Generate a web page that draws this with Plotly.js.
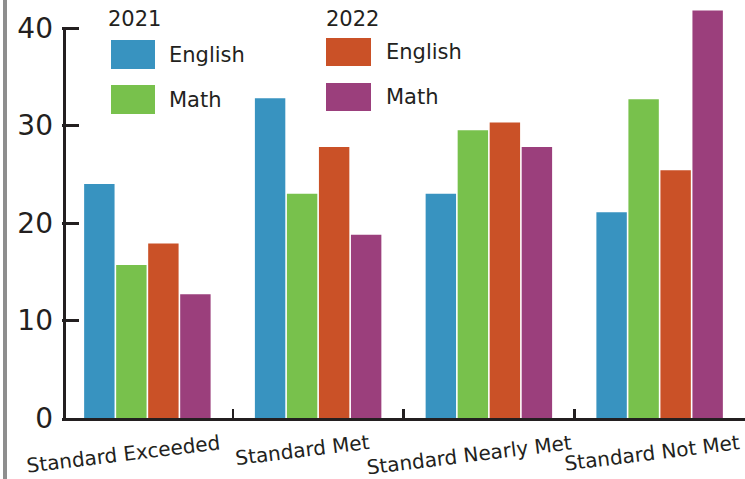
<!DOCTYPE html>
<html>
<head>
<meta charset="utf-8">
<script src="https://cdn.plot.ly/plotly-3.0.1.min.js"></script>
<style>
  html, body { margin: 0; padding: 0; background: #ffffff; }
  #chart { width: 745px; height: 479px; }
</style>
</head>
<body>
<div id="chart"></div>
<script>
// ---- data ----
var categories = ['Standard Exceeded', 'Standard Met', 'Standard Nearly Met', 'Standard Not Met'];
var years = ['2021', '2022'];
var subjects = ['English', 'Math'];
var english2021 = [24.0, 32.8, 23.0, 21.1];
var math2021    = [15.7, 23.0, 29.5, 32.7];
var english2022 = [17.9, 27.8, 30.3, 25.4];
var math2022    = [12.7, 18.8, 27.8, 41.8];
var yTicks = [0, 10, 20, 30, 40];

// ---- style ----
var colors = {
  '2021': {English: '#3893c0', Math: '#78c14c'},
  '2022': {English: '#ca5127', Math: '#9b3f7c'}
};
var seriesValues = {
  '2021': {English: english2021, Math: math2021},
  '2022': {English: english2022, Math: math2022}
};
var labelXShift = [-24, -16, -20, -8];   // pixel offsets of the rotated category labels
var FONT = 'DejaVu Sans, sans-serif';
var INK = '#231f20';

var W = 745, H = 479;
var M = {l: 62, r: 0, t: 0, b: 61};
var PW = W - M.l - M.r, PH = H - M.t - M.b;
var Y_PX_PER_UNIT = 9.75;           // 10 units = 97.5 px in the reference
var yTop = PH / Y_PX_PER_UNIT;       // axis range top so that 40 sits where it does
function px2x(px) { return (px - M.l) / PW; }
function px2y(py) { return (H - M.b - py) / PH; }

var traces = [];
years.forEach(function (yr) {
  subjects.forEach(function (sub) {
    traces.push({
      type: 'bar',
      name: yr + ' ' + sub,
      x: categories,
      y: seriesValues[yr][sub],
      marker: {color: colors[yr][sub], line: {width: 0}},
      hoverinfo: 'x+y+name'
    });
  });
});

var shapes = [];
var annotations = [];

// left gray bar
shapes.push({
  type: 'line', xref: 'paper', yref: 'paper',
  x0: px2x(5), x1: px2x(5), y0: px2y(H), y1: px2y(0),
  line: {color: '#8e8e8e', width: 4}
});

// y axis line: runs only from 0 up to the top tick
shapes.push({
  type: 'line', xref: 'paper', yref: 'y',
  x0: px2x(64.5), x1: px2x(64.5), y0: 0, y1: yTicks[yTicks.length - 1],
  line: {color: INK, width: 3}
});

// custom legend (large swatches)
var legendCols = {
  '2021': {title: [108, 19], swatchX: [111, 155], textX: 169, rows: [[40, 69], [85, 114]]},
  '2022': {title: [326, 19], swatchX: [326, 371], textX: 386, rows: [[38, 66], [83, 111]]}
};
years.forEach(function (yr) {
  var c = legendCols[yr];
  annotations.push({
    xref: 'paper', yref: 'paper', x: px2x(c.title[0] - 2), y: px2y(c.title[1]),
    xanchor: 'left', yanchor: 'middle', showarrow: false,
    text: yr, font: {family: FONT, size: 21, color: INK}
  });
  subjects.forEach(function (sub, i) {
    var r = c.rows[i];
    shapes.push({
      type: 'rect', xref: 'paper', yref: 'paper',
      x0: px2x(c.swatchX[0]), x1: px2x(c.swatchX[1]),
      y0: px2y(r[1]), y1: px2y(r[0]),
      fillcolor: colors[yr][sub], line: {width: 0}
    });
    annotations.push({
      xref: 'paper', yref: 'paper', x: px2x(c.textX - 2), y: px2y((r[0] + r[1]) / 2),
      xanchor: 'left', yanchor: 'middle', showarrow: false,
      text: sub, font: {family: FONT, size: 21, color: INK}
    });
  });
});

// rotated category labels
categories.forEach(function (cat, i) {
  annotations.push({
    xref: 'x', yref: 'paper', x: cat, y: px2y(428),
    xanchor: 'center', yanchor: 'top', xshift: labelXShift[i],
    showarrow: false, textangle: -7,
    text: cat, font: {family: FONT, size: 20, color: INK}
  });
});

var layout = {
  width: W, height: H,
  margin: M,
  paper_bgcolor: '#ffffff', plot_bgcolor: '#ffffff',
  showlegend: false,
  barmode: 'group',
  bargap: 0.25,
  bargroupgap: 0.05,
  font: {family: FONT, color: INK},
  xaxis: {
    type: 'category',
    range: [-0.5, categories.length - 0.5],
    autorange: false,
    showticklabels: false,
    showline: true, linecolor: INK, linewidth: 3,
    ticks: 'inside', tickson: 'boundaries', ticklen: 9, tickwidth: 2.5, tickcolor: INK,
    showgrid: false, zeroline: false,
    fixedrange: true
  },
  yaxis: {
    range: [0, yTop],
    autorange: false,
    tickvals: yTicks,
    ticktext: yTicks.map(String),
    showline: false,
    ticks: 'inside', ticklen: 17, tickwidth: 3, tickcolor: INK,
    tickfont: {family: FONT, size: 28, color: INK},
    ticklabelstandoff: 8,
    showgrid: false, zeroline: false,
    fixedrange: true
  },
  shapes: shapes,
  annotations: annotations
};

Plotly.newPlot('chart', traces, layout, {displayModeBar: false, staticPlot: true});
</script>
</body>
</html>
